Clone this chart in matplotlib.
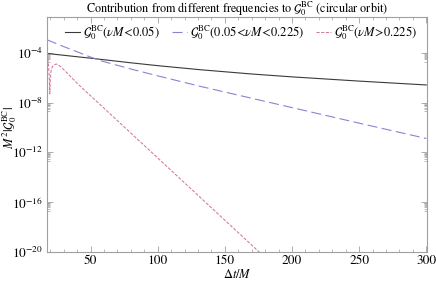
import numpy as np
import matplotlib
matplotlib.use("Agg")
import matplotlib.pyplot as plt
from matplotlib.ticker import FixedLocator, NullFormatter, FuncFormatter

plt.rcParams['font.family'] = ['STIXGeneral', 'DejaVu Serif']
plt.rcParams['mathtext.fontset'] = 'stix'

# Data: x = Δt/M, y = log10(M^2 |G_0^BC|)
low_x = [17.5, 50, 80, 100, 131, 170, 200, 250, 300]
low_logy = [-4.05, -4.43, -4.8, -5.03, -5.35, -5.7, -5.93, -6.27, -6.58]

mid_x = [17.5, 30, 42, 49, 58, 80, 100, 132, 170, 200, 250, 300]
mid_logy = [-2.95, -3.5, -4.0, -4.3, -4.65, -5.3, -5.85, -6.7, -7.65, -8.4, -9.65, -10.88]

high_x = [17.5, 18.2, 18.8, 19.3, 19.6, 19.9, 20.5, 21.5, 23, 24.6, 27, 30,
          40, 60, 80, 100, 120, 140, 160, 180]
high_logy = [-4.1, -4.5, -5.2, -6.3, -7.3, -6.2, -5.5, -5.1, -4.95, -4.9, -5.05, -5.35,
             -6.45, -8.45, -10.45, -12.45, -14.45, -16.45, -18.45, -20.45]

labels = [r'$\mathcal{G}_0^{\rm BC}(\nu M\!<\!0.05)$',
          r'$\mathcal{G}_0^{\rm BC}(0.05\!<\!\nu M\!<\!0.225)$',
          r'$\mathcal{G}_0^{\rm BC}(\nu M\!>\!0.225)$']
title = r'Contribution from different frequencies to $\mathcal{G}_0^{\rm BC}$ (circular orbit)'

fig = plt.figure(figsize=(4.36, 2.82), dpi=100)
ax = fig.add_axes([47/436, 1-252/282, 380/436, 235/282])

ax.plot(low_x, 10.0**np.array(low_logy), color='#3a3a3a', lw=0.8, label=labels[0])
ax.plot(mid_x, 10.0**np.array(mid_logy), color='#8585d5', lw=0.8,
        dashes=(9, 4), label=labels[1])
ax.plot(high_x, 10.0**np.array(high_logy), color='#d0789e', lw=0.75,
        dashes=(3, 1.5), label=labels[2])

ax.set_yscale('log')
ax.set_xlim(17.5, 300.5)
ax.set_ylim(1e-20, 10**-1.12)

ax.xaxis.set_major_locator(FixedLocator([50, 100, 150, 200, 250, 300]))
ax.xaxis.set_minor_locator(FixedLocator(np.arange(20, 301, 10)))
major_exp = [-20, -16, -12, -8, -4]
ax.yaxis.set_major_locator(FixedLocator([10.0**e for e in major_exp]))
minor_y = []
for e in major_exp:
    for m in range(2, 10):
        minor_y.append(m * 10.0**(e - 1))
ax.yaxis.set_minor_locator(FixedLocator(minor_y))
ax.yaxis.set_minor_formatter(NullFormatter())
ax.yaxis.set_major_formatter(FuncFormatter(lambda v, p: r'$10^{%d}$' % int(round(np.log10(v)))))

for s in ax.spines.values():
    s.set_color('#a0a0a0')
    s.set_linewidth(0.8)
ax.tick_params(which='both', direction='in', top=True, right=True, color='#a0a0a0',
               labelsize=9.5)
ax.tick_params(axis='x', which='both', pad=2)
ax.tick_params(axis='y', which='both', pad=3)
ax.tick_params(which='major', length=4, width=0.6)
ax.tick_params(which='minor', length=2, width=0.5)

ax.set_xlabel(r'$\Delta t/M$', fontsize=9)
ax.xaxis.set_label_coords(0.5, -0.068)
ax.set_ylabel(r'$M^2|\mathcal{G}_0^{\rm BC}|$', fontsize=9)
ax.yaxis.set_label_coords(-0.075, 0.53)
fig.text(237/436, 1 - 8.5/282, title, fontsize=8.7, ha='center', va='center')

ax.legend(loc='center right', bbox_to_anchor=(0.975, 0.932), ncol=3, frameon=False,
          fontsize=9, handlelength=1.2, handletextpad=0.3, columnspacing=0.9,
          borderaxespad=0.0, borderpad=0.0)

fig.savefig('out.png', dpi=100)
